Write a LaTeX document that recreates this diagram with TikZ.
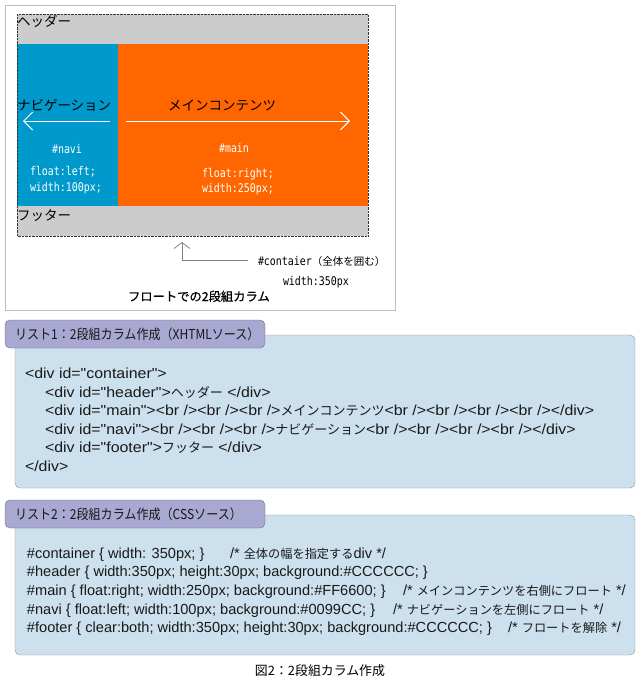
\documentclass[tikz,border=0pt]{standalone}
\usepackage{fontspec}
\setmainfont{Liberation Sans}
\newfontfamily\wide[FakeStretch=1.09]{Liberation Sans}
\newfontfamily\jp{Noto Sans CJK JP}
\newfontfamily\jpc[FakeStretch=0.88]{Noto Sans CJK JP}
\newfontfamily\jpb[FakeBold=0.8]{Noto Sans CJK JP}
\newfontfamily\mono[FakeStretch=0.83]{DejaVu Sans Mono}
\usepackage{tikz}
\usetikzlibrary{arrows.meta,positioning}
\definecolor{ash}{HTML}{CCCCCC}
\definecolor{sky}{HTML}{0099CC}
\definecolor{flame}{HTML}{FF6600}
\definecolor{lilac}{HTML}{A8A8D2}
\definecolor{pale}{HTML}{CDE0EE}
\definecolor{rim}{HTML}{BDBDBD}
\definecolor{slate}{HTML}{6E6E80}
\tikzset{
  every node/.style={inner sep=0pt,outer sep=0pt},
  area/.style 2 args={anchor=north west,minimum width=#1,minimum height=#2},
  jtext/.style={font=\jp\fontsize{13.5}{15}\selectfont,anchor=base west},
  ctext/.style={font=\mono\fontsize{12}{14}\selectfont,text=white,anchor=base west},
  code/.style={font=\fontsize{14.6}{16}\selectfont,anchor=base west,text=black!90},
  xcode/.style={code,font=\wide\fontsize{14.6}{16}\selectfont},
  tabbox/.style={draw=slate,fill=lilac,rounded corners=5pt,anchor=north west,
    minimum width=260pt,minimum height=28pt,text width=240pt,inner xsep=10pt,align=left,
    font=\jpc\fontsize{13.7}{15}\selectfont,text=black!90},
  listbox/.style={draw=gray!85,fill=pale,rounded corners=5pt},
  wline/.style={white,line width=1pt,-{Straight Barb[length=9pt,width=18pt]}},
  gline/.style={gray,line width=0.8pt},
}
\newcommand\jx[1]{{\jp\fontsize{13}{15}\selectfont #1}}
\newcommand\jc[1]{{\jp\fontsize{12.2}{15}\selectfont #1}}

\begin{document}
\begin{tikzpicture}[x=1pt,y=-1pt]
  \useasboundingbox (0,0) rectangle (640,680);
  % float layout
  \draw[rim,line width=1pt] (5,5) rectangle (395,310);
  \node[area={351pt}{30pt},fill=ash] (header) at (17,14) {};
  \node[area={101pt}{162pt},fill=sky] (navi) at (17,44) {};
  \node[area={250pt}{162pt},fill=flame] (main) at (118,44) {};
  \node[area={351pt}{30pt},fill=ash] (footer) at (17,206) {};
  \draw[black!80,densely dotted] (header.north west) rectangle (footer.south east);

  \node[jtext] (hlabel) at (17,26) {ヘッダー};
  \node[jtext] (nlabel) at (17,110) {ナビゲーション};
  \node[jtext] (mlabel) at (168,110) {メインコンテンツ};
  \node[jtext] (flabel) at (17,220) {フッター};

  \coordinate (nl) at (23,121);
  \coordinate (nr) at (110,121);
  \coordinate (ml) at (126,121);
  \coordinate (mr) at (350,121);
  \draw[wline] (nr) -- (nl);
  \draw[wline] (ml) -- (mr);

  \node[ctext,anchor=base] (nid) at (67,153) {\#navi};
  \node[ctext] (nf) at (30,175) {float:left;};
  \node[ctext] (nw) at (30,191) {width:100px;};
  \node[ctext,anchor=base] (mid) at (234,152) {\#main};
  \node[ctext] (mf) at (202,177) {float:right;};
  \node[ctext] (mw) at (202,192) {width:250px;};

  \node[anchor=base west,font=\mono\fontsize{12}{14}\selectfont] (cid) at (258,265)
    {\#contaier{\jp\fontsize{10.5}{12}\selectfont （全体を囲む）}};
  \node[ctext,text=black] (cw) at (283,285) {width:350px};
  \coordinate (up) at (182,242);
  \coordinate (bend) at (182,260);
  \draw[gline,-{Straight Barb[length=6pt,width=16pt]}] (cid.west |- bend) ++(-10,0) -- (bend) -- (up);
  \node[anchor=base west,font=\jpb\fontsize{12.3}{14}\selectfont] (ftitle) at (128,301)
    {フロートでの2段組カラム};

  % list 1
  \node[listbox,area={620pt}{153pt}] (xbox) at (15,335) {};
  \node[tabbox] (xtab) at (5,320) {リスト1：2段組カラム作成（XHTMLソース）};
  \node[xcode] (x1) at (25,378) {<div id="container">};
  \node[xcode] (x2) at (45,397) {<div id="header">\jx{ヘッダー} </div>};
  \node[xcode] (x3) at (45,415) {<div id="main"><br /><br /><br />\jx{メインコンテンツ}<br /><br /><br /><br /></div>};
  \node[xcode] (x4) at (45,434) {<div id="navi"><br /><br /><br />\jx{ナビゲーション}<br /><br /><br /><br /></div>};
  \node[xcode] (x5) at (45,452) {<div id="footer">\jx{フッター} </div>};
  \node[xcode] (x6) at (25,471) {</div>};

  % list 2
  \node[listbox,area={620pt}{140pt}] (cbox) at (15,515) {};
  \node[tabbox] (ctab) at (5,500) {リスト2：2段組カラム作成（CSSソース）};
  \node[code] (c1) at (27,558) {\#container \{ width: 350px; \}};
  \node[code] (c1x) at (230,558) {/* \jc{全体の幅を指定する}div */};
  \node[code] (c2) at (27,576) {\#header \{ width:350px; height:30px; background:\#CCCCCC; \}};
  \node[code] (c3) at (27,595) {\#main \{ float:right; width:250px; background:\#FF6600; \}};
  \node[code] (c3x) at (403,595) {/* \jc{メインコンテンツを右側にフロート} */};
  \node[code] (c4) at (27,614) {\#navi \{ float:left; width:100px; background:\#0099CC; \}};
  \node[code] (c4x) at (393,614) {/* \jc{ナビゲーションを左側にフロート} */};
  \node[code] (c5) at (27,632) {\#footer \{ clear:both; width:350px; height:30px; background:\#CCCCCC; \}};
  \node[code] (c5x) at (508,632) {/* \jc{フロートを解除} */};

  \node[anchor=base,font=\jp\fontsize{12.9}{15}\selectfont] (cap) at (320,675) {図2：2段組カラム作成};
\end{tikzpicture}
\end{document}
